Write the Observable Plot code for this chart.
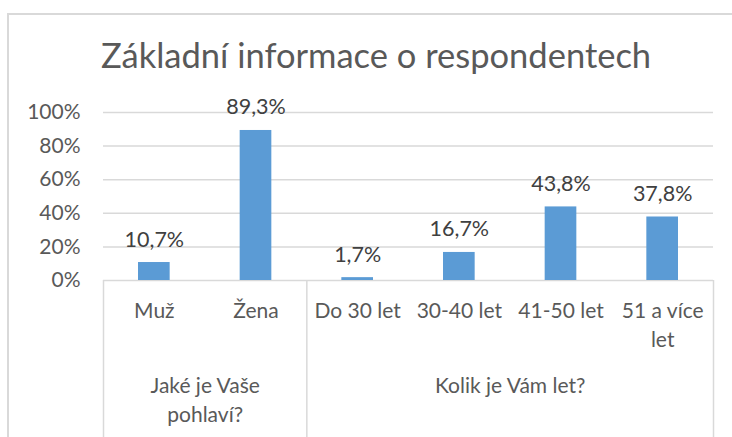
<!DOCTYPE html>
<html>
<head>
<meta charset="utf-8">
<script src="https://cdn.jsdelivr.net/npm/d3@7"></script>
<script src="https://cdn.jsdelivr.net/npm/@observablehq/plot@0.6"></script>
<style>
  html, body { margin: 0; padding: 0; background: #fff; }
  #wrap { position: relative; width: 732px; height: 437px; overflow: hidden; font-family: Lato, "Open Sans", sans-serif; }
  #frame { position: absolute; left: 7px; top: 13px; width: 760px; height: 460px; border-left: 2px solid #d9d9d9; border-top: 2px solid #d9d9d9; }
  #title { position: absolute; left: 10px; top: 38px; width: 732px; text-align: center; font-size: 34.5px; line-height: 1; color: #595959; white-space: nowrap; }
  #chart { position: absolute; left: 0; top: 0; }
</style>
</head>
<body>
<div id="wrap">
  <div id="frame"></div>
  <div id="chart"></div>
  <div id="title">Základní informace o respondentech</div>
</div>
<script>
// Data
const categories = ["Muž", "Žena", "Do 30 let", "30-40 let", "41-50 let", "51 a více\nlet"];
const values = [10.7, 89.3, 1.7, 16.7, 43.8, 37.8];
const groupOf = [0, 0, 1, 1, 1, 1];
const groupNames = ["Jaké je Vaše\npohlaví?", "Kolik je Vám let?"];
const yTicks = [0, 20, 40, 60, 80, 100];

const rows = categories.map((c, i) => ({cat: c, value: values[i], i, group: groupOf[i]}));
const groups = groupNames.map((name, k) => {
  const idx = rows.filter(r => r.group === k).map(r => r.i);
  return {name, start: d3.min(idx), end: d3.max(idx) + 1};
});
const boundaries = [...groups.map(g => g.start), groups[groups.length - 1].end];
const fmt = v => v.toFixed(1).replace(".", ",") + "%";

const chart = Plot.plot({
  width: 732,
  height: 437,
  marginLeft: 103,
  marginRight: 19,
  marginTop: 112,
  marginBottom: 157,
  style: {fontSize: "21px", fontFamily: "Lato, 'Open Sans', sans-serif", color: "#595959", background: "transparent"},
  x: {domain: [0, categories.length], axis: null},
  y: {domain: [0, 100], ticks: yTicks, tickFormat: d => d + "%", tickSize: 0, tickPadding: 23, label: null},
  marks: [
    Plot.ruleY(yTicks, {stroke: "#d9d9d9", strokeWidth: 1.5}),
    Plot.ruleX(boundaries, {x: d => d, y1: 0, y2: 0, insetBottom: -170, stroke: "#d9d9d9", strokeWidth: 1.5}),
    Plot.rectY(rows, {x1: d => d.i, x2: d => d.i + 1, y: "value", fill: "#5b9bd5", insetLeft: 35, insetRight: 35}),
    Plot.text(rows, {x: d => d.i + 0.5, y: "value", text: d => fmt(d.value), dy: -16, lineAnchor: "bottom", fontSize: 21.5, fill: "#404040"}),
    Plot.text(rows, {x: d => d.i + 0.5, y: 0, text: "cat", lineAnchor: "top", dy: 17, lineHeight: 1.38, fontSize: 21, fill: "#595959"}),
    Plot.text(groups, {x: d => (d.start + d.end) / 2, y: 0, text: "name", lineAnchor: "top", dy: 92, lineHeight: 1.38, fontSize: 21, fill: "#595959"})
  ]
});
document.getElementById("chart").appendChild(chart);
</script>
</body>
</html>
